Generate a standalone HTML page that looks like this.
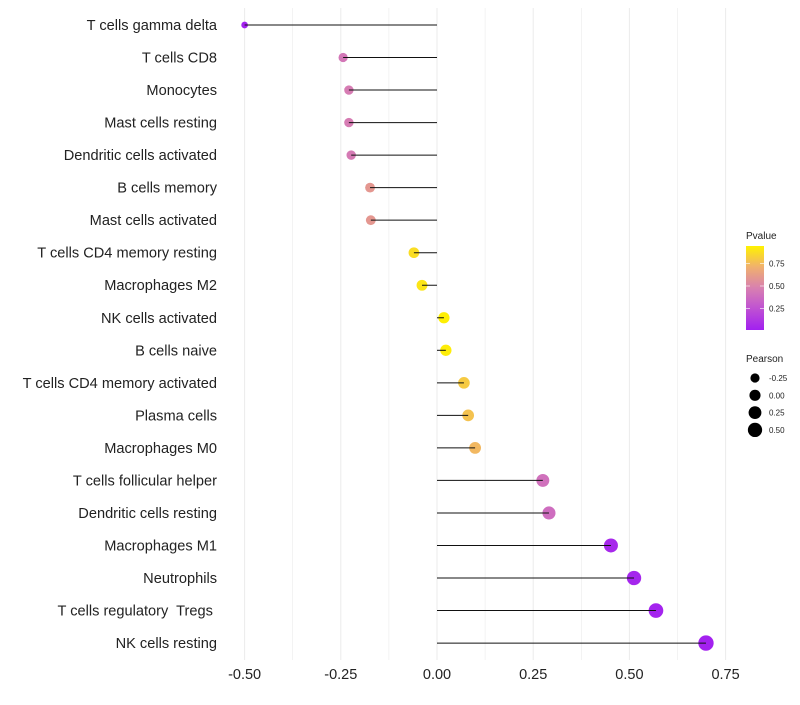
<!DOCTYPE html>
<html><head><meta charset="utf-8"><style>
body{margin:0;background:#fff;font-family:"Liberation Sans",sans-serif}
svg text{font-family:"Liberation Sans",sans-serif;white-space:pre}
</style></head><body>
<svg id="chart" width="800" height="700"></svg>
<script>
const categories=["T cells gamma delta","T cells CD8","Monocytes","Mast cells resting","Dendritic cells activated","B cells memory","Mast cells activated","T cells CD4 memory resting","Macrophages M2","NK cells activated","B cells naive","T cells CD4 memory activated","Plasma cells","Macrophages M0","T cells follicular helper","Dendritic cells resting","Macrophages M1","Neutrophils","T cells regulatory  Tregs ","NK cells resting"];
const pearson=[-0.50,-0.244,-0.229,-0.229,-0.223,-0.174,-0.172,-0.060,-0.039,0.018,0.023,0.070,0.081,0.099,0.275,0.291,0.452,0.512,0.569,0.699];
const pvalues=[0.01,0.45,0.48,0.48,0.47,0.62,0.62,0.92,0.95,0.99,0.98,0.85,0.82,0.78,0.42,0.40,0.04,0.03,0.02,0.005];
const xTicks=[-0.5,-0.25,0,0.25,0.5,0.75];
const xTickLabels=["-0.50","-0.25","0.00","0.25","0.50","0.75"];
const sizeLegend=[-0.25,0,0.25,0.5];
const sizeLegendLabels=["-0.25","0.00","0.25","0.50"];
const pLegendTicks=[0.25,0.5,0.75];
const pLegendLabels=["0.25","0.50","0.75"];

const NS="http://www.w3.org/2000/svg";
const svg=document.getElementById('chart');
const x=v=>437+v*384.8;
const y=i=>25+i*32.53;
const r=v=>Math.sqrt(Math.max(4,31+40*v));
const stops=[[0,[162,32,240]],[0.3,[196,90,205]],[0.5,[216,128,176]],[0.75,[240,176,110]],[1,[255,242,0]]];
function col(p){for(let k=1;k<stops.length;k++){if(p<=stops[k][0]){const a=stops[k-1],b=stops[k];const t=(p-a[0])/(b[0]-a[0]);const c=a[1].map((v,j)=>Math.round(v+(b[1][j]-v)*t));return `rgb(${c})`;}}return 'rgb(255,242,0)';}
function el(t,a){const e=document.createElementNS(NS,t);for(const k in a)e.setAttribute(k,a[k]);svg.appendChild(e);return e;}

for(let g=-0.5;g<=0.75001;g+=0.125){const e=el('line',{x1:x(g),x2:x(g),y1:8,y2:660,stroke:'#ebebeb','stroke-width':Math.abs(g*4-Math.round(g*4))<1e-6?1:0.6});

}
xTicks.forEach((t,i)=>{const e=el('text',{x:x(t),y:679,'text-anchor':'middle','font-size':14.5,fill:'#222'});e.textContent=xTickLabels[i];

});

categories.forEach((c,i)=>{
 const lab=el('text',{x:217,y:y(i)+5,'text-anchor':'end','font-size':14.6,fill:'#222'});lab.textContent=c;
 
 
 const pt=el('circle',{cx:x(pearson[i]),cy:y(i),r:r(pearson[i]),fill:col(pvalues[i])});
 
 
 const ln=el('line',{x1:x(pearson[i]),x2:x(0),y1:y(i),y2:y(i),stroke:'#111','stroke-width':1});
 
 
});

const t1=el('text',{x:746,y:239,'font-size':10,fill:'#222'});t1.textContent='Pvalue';


const defs=el('defs',{});
const lg=document.createElementNS(NS,'linearGradient');lg.setAttribute('id','pg');lg.setAttribute('x1','0');lg.setAttribute('y1','1');lg.setAttribute('x2','0');lg.setAttribute('y2','0');defs.appendChild(lg);
stops.forEach(s=>{const st=document.createElementNS(NS,'stop');st.setAttribute('offset',s[0]);st.setAttribute('stop-color',`rgb(${s[1]})`);lg.appendChild(st);});
const bar=el('rect',{x:746,y:246,width:18,height:84,fill:'url(#pg)'});


pLegendTicks.forEach((p,i)=>{const yy=331-p*90;
 el('line',{x1:746,x2:750,y1:yy,y2:yy,stroke:'#fff','stroke-opacity':0.6});el('line',{x1:760,x2:764,y1:yy,y2:yy,stroke:'#fff','stroke-opacity':0.6});
 const t=el('text',{x:769,y:yy+3,'font-size':8,fill:'#222'});t.textContent=pLegendLabels[i];
 
 });
const t2=el('text',{x:746,y:362,'font-size':10,fill:'#222'});t2.textContent='Pearson';


sizeLegend.forEach((v,i)=>{const yy=378+i*17.3;
 const c=el('circle',{cx:755,cy:yy,r:r(v),fill:'#000'});
 
 
 const t=el('text',{x:769,y:yy+3,'font-size':8,fill:'#222'});t.textContent=sizeLegendLabels[i];
 
 });
</script>
</body></html>
